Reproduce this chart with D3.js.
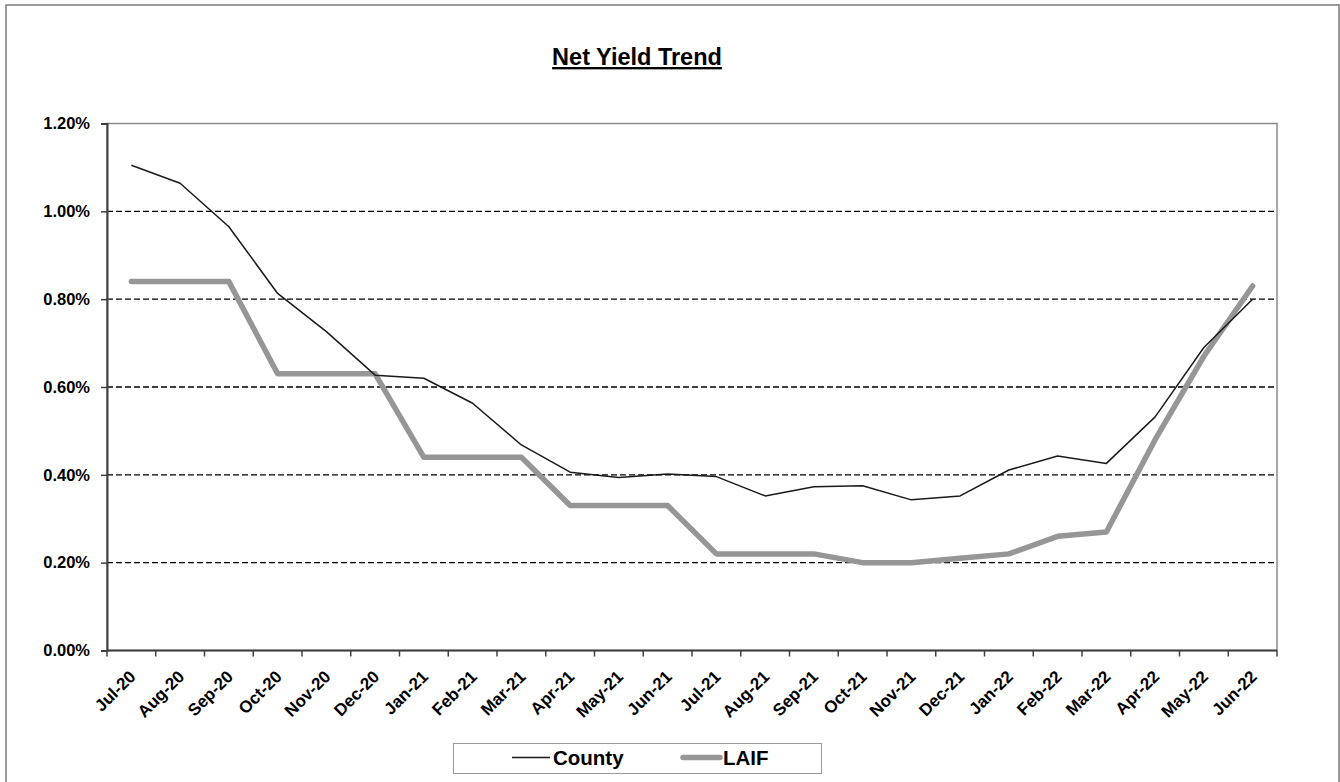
<!DOCTYPE html>
<html>
<head>
<meta charset="utf-8">
<script src="https://cdn.jsdelivr.net/npm/d3@7"></script>
<style>
  html, body { margin: 0; padding: 0; background: #fff; }
  svg { display: block; }
  text { font-family: "Liberation Sans", Arial, sans-serif; font-weight: bold; fill: #000; }
</style>
</head>
<body>
<svg id="chart" width="1340" height="782"></svg>
<script>
// Monthly net yield (percent), Jul-2020 through Jun-2022
const months = ["Jul-20","Aug-20","Sep-20","Oct-20","Nov-20","Dec-20","Jan-21","Feb-21","Mar-21","Apr-21","May-21","Jun-21",
                "Jul-21","Aug-21","Sep-21","Oct-21","Nov-21","Dec-21","Jan-22","Feb-22","Mar-22","Apr-22","May-22","Jun-22"];
const county = [1.105, 1.064, 0.965, 0.813, 0.726, 0.627, 0.620, 0.563, 0.468, 0.406, 0.394, 0.402,
                0.396, 0.352, 0.373, 0.375, 0.343, 0.352, 0.411, 0.443, 0.426, 0.532, 0.690, 0.800];
const laif   = [0.84, 0.84, 0.84, 0.63, 0.63, 0.63, 0.44, 0.44, 0.44, 0.33, 0.33, 0.33,
                0.22, 0.22, 0.22, 0.20, 0.20, 0.21, 0.22, 0.26, 0.27, 0.48, 0.67, 0.83];
const yTicks = [0, 0.2, 0.4, 0.6, 0.8, 1.0, 1.2];
const seriesNames = ["County", "LAIF"];

const svg = d3.select("#chart");
const plot = { left: 107, right: 1277, top: 123.5, bottom: 650.5 };

const x = d3.scaleBand().domain(months).range([plot.left, plot.right]).padding(0);
const y = d3.scaleLinear().domain([0, 1.2]).range([plot.bottom, plot.top]);
const cx = m => x(m) + x.bandwidth() / 2;

// Outer chart frame
svg.append("rect")
  .attr("x", 6).attr("y", 5).attr("width", 1333).attr("height", 800)
  .attr("fill", "none").attr("stroke", "#7a7a7a").attr("stroke-width", 1.5);

// Title
svg.append("text")
  .attr("x", 637).attr("y", 65)
  .attr("text-anchor", "middle")
  .style("font-size", "23.5px")
  .style("text-decoration", "underline")
  .text("Net Yield Trend");

// Plot area frame
svg.append("rect")
  .attr("x", plot.left).attr("y", plot.top)
  .attr("width", plot.right - plot.left).attr("height", plot.bottom - plot.top)
  .attr("fill", "none").attr("stroke", "#8a8a8a").attr("stroke-width", 1.5);

// Dashed gridlines
svg.append("g")
  .selectAll("line")
  .data(yTicks.filter(v => v > 0 && v < 1.2))
  .join("line")
  .attr("x1", plot.left).attr("x2", plot.right)
  .attr("y1", d => y(d)).attr("y2", d => y(d))
  .attr("stroke", "#000").attr("stroke-width", 1.3)
  .attr("stroke-dasharray", "6,3");

// Y axis
const yAxis = svg.append("g")
  .attr("transform", `translate(${plot.left},0)`)
  .call(d3.axisLeft(y).tickValues(yTicks).tickSize(6).tickPadding(11)
        .tickFormat(d => d3.format(".2f")(d) + "%"));
yAxis.select(".domain").attr("stroke", "#404040").attr("stroke-width", 2);
yAxis.selectAll(".tick line").attr("stroke", "#404040").attr("stroke-width", 1.5);
yAxis.selectAll(".tick text").style("font-size", "16.5px").attr("fill", "#000");

// X axis: ticks on band boundaries, labels rotated
const xg = svg.append("g").attr("transform", `translate(0,${plot.bottom})`);
xg.append("line")
  .attr("x1", plot.left).attr("x2", plot.right)
  .attr("stroke", "#404040").attr("stroke-width", 2);
const edges = months.map(m => x(m)).concat([plot.right]);
xg.selectAll("line.tick")
  .data(edges)
  .join("line")
  .attr("class", "tick")
  .attr("x1", d => d).attr("x2", d => d)
  .attr("y1", 0).attr("y2", 6)
  .attr("stroke", "#404040").attr("stroke-width", 1.5);
xg.selectAll("text")
  .data(months)
  .join("text")
  .attr("transform", d => `translate(${cx(d) + 1},23) rotate(-45)`)
  .attr("dy", "0.35em")
  .attr("text-anchor", "end")
  .style("font-size", "17px")
  .text(d => d);

// Series lines
const line = d3.line().x((d, i) => cx(months[i])).y(d => y(d));

svg.append("path")
  .datum(laif)
  .attr("d", line)
  .attr("fill", "none")
  .attr("stroke", "#969696").attr("stroke-width", 5.5)
  .attr("stroke-linejoin", "round").attr("stroke-linecap", "round");

svg.append("path")
  .datum(county)
  .attr("d", line)
  .attr("fill", "none")
  .attr("stroke", "#1a1a1a").attr("stroke-width", 1.5)
  .attr("stroke-linejoin", "round");

// Legend
const legend = svg.append("g");
legend.append("rect")
  .attr("x", 453.5).attr("y", 743.5).attr("width", 368).attr("height", 30)
  .attr("fill", "#fff").attr("stroke", "#333").attr("stroke-width", 1)
  .attr("stroke-dasharray", "1,1");

const legendItems = [
  { name: seriesNames[0], x1: 512, x2: 550, tx: 553, color: "#1a1a1a", w: 1.5, cap: "butt" },
  { name: seriesNames[1], x1: 683, x2: 720, tx: 723, color: "#969696", w: 5.5, cap: "round" }
];
legendItems.forEach(it => {
  legend.append("line")
    .attr("x1", it.x1).attr("x2", it.x2).attr("y1", 757.5).attr("y2", 757.5)
    .attr("stroke", it.color).attr("stroke-width", it.w).attr("stroke-linecap", it.cap);
  legend.append("text")
    .attr("x", it.tx).attr("y", 765)
    .style("font-size", "20.5px")
    .text(it.name);
});
</script>
</body>
</html>
